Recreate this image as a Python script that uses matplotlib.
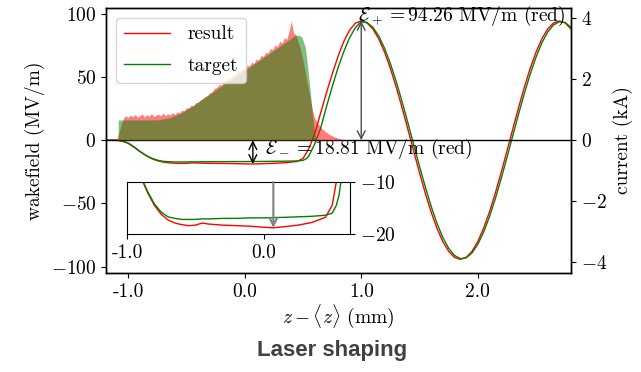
import numpy as np
import matplotlib
matplotlib.use("Agg")
import matplotlib.pyplot as plt

# шрифты как в LaTeX
plt.rcParams['font.family'] = 'serif'
plt.rcParams['font.serif'] = ['cmr10']
plt.rcParams['mathtext.fontset'] = 'cm'
plt.rcParams['axes.formatter.use_mathtext'] = True
plt.rcParams['font.size'] = 14
plt.rcParams['axes.unicode_minus'] = True

# wakefield (MV/m), общая сетка по z (mm)
wake_z = [-1.19, -1.10, -1.05, -1.00, -0.95, -0.90, -0.85, -0.80, -0.75, -0.70,
          -0.65, -0.60, -0.55, -0.50, -0.45, -0.40, -0.30, -0.20, -0.10, 0.00,
          0.07, 0.15, 0.25, 0.35, 0.45, 0.50, 0.53, 0.55, 0.58, 0.60,
          0.65, 0.70, 0.75, 0.80, 0.85, 0.90, 0.95, 1.00, 1.05, 1.10,
          1.15, 1.20, 1.25, 1.30, 1.35, 1.40, 1.45, 1.50, 1.55, 1.60,
          1.65, 1.70, 1.75, 1.80, 1.85, 1.90, 1.95, 2.00, 2.05, 2.10,
          2.15, 2.20, 2.25, 2.30, 2.35, 2.40, 2.45, 2.50, 2.55, 2.60,
          2.65, 2.70, 2.75, 2.80, 2.85]
wake_result = [0.0, 0.0, -0.8, -2.5, -5.5, -9.0, -12.0, -14.5, -16.2, -17.3,
               -17.9, -18.2, -18.4, -18.3, -17.9, -18.1, -18.3, -18.4, -18.5, -18.7,
               -18.81, -18.6, -18.3, -17.8, -16.8, -14.5, -10.0, -6.5, 0.0, 4.5,
               21.0, 37.0, 52.0, 66.0, 78.0, 87.0, 92.5, 94.26, 92.66, 87.90,
               80.14, 69.66, 56.80, 42.01, 25.80, 8.70, -8.69, -25.79, -42.01, -56.80,
               -69.66, -80.14, -87.90, -92.66, -94.26, -92.66, -87.90, -80.14, -69.66, -56.80,
               -42.01, -25.80, -8.70, 8.69, 25.79, 42.01, 56.80, 69.66, 80.14, 87.90,
               92.66, 94.26, 92.66, 87.90, 80.14]
wake_target = [0.0, 0.0, -0.6, -2.2, -5.2, -8.8, -11.8, -14.2, -15.8, -16.7,
               -17.0, -17.2, -17.2, -17.2, -17.1, -17.1, -17.0, -17.0, -16.9, -16.9,
               -16.85, -16.8, -16.7, -16.6, -16.4, -16.0, -14.5, -12.5, -7.0, -3.0,
               9.0, 26.0, 42.0, 57.0, 70.0, 81.0, 89.0, 93.66, 93.01, 89.21,
               82.37, 72.71, 60.60, 46.40, 30.63, 13.82, -3.47, -20.64, -37.09, -52.27,
               -65.73, -76.91, -85.45, -91.11, -93.66, -93.01, -89.21, -82.37, -72.71, -60.60,
               -46.40, -30.63, -13.82, 3.47, 20.64, 37.09, 52.27, 65.73, 76.91, 85.45,
               91.11, 93.66, 93.01, 89.21, 82.37]

# ток (kA)
cur_target_z = [-1.19, -1.086, -1.085, -0.75, -0.65, -0.55, -0.45, -0.35, -0.25, -0.15,
                -0.05, 0.05, 0.15, 0.25, 0.35, 0.42, 0.46, 0.49, 0.52, 0.54,
                0.56, 0.58, 0.60, 0.61, 2.85]
cur_target = [0.0, 0.0, 0.66, 0.66, 0.72, 0.88, 1.11, 1.38, 1.64, 1.90,
              2.16, 2.42, 2.68, 2.94, 3.20, 3.40, 3.45, 3.38, 3.05, 2.40,
              1.70, 0.90, 0.20, 0.0, 0.0]

cur_result_z = [-1.19, -1.10, -1.08, -1.06, -1.04, -1.02, -1.00, -0.98, -0.96, -0.94,
                -0.92, -0.90, -0.88, -0.86, -0.84, -0.82, -0.80, -0.78, -0.76, -0.74,
                -0.72, -0.70, -0.68, -0.66, -0.64, -0.62, -0.60, -0.58, -0.56, -0.54,
                -0.52, -0.50, -0.48, -0.46, -0.44, -0.42, -0.40, -0.38, -0.36, -0.34,
                -0.32, -0.30, -0.28, -0.26, -0.24, -0.22, -0.20, -0.18, -0.16, -0.14,
                -0.12, -0.10, -0.08, -0.06, -0.04, -0.02, 0.00, 0.02, 0.04, 0.06,
                0.08, 0.10, 0.12, 0.14, 0.16, 0.18, 0.20, 0.22, 0.24, 0.26,
                0.28, 0.30, 0.32, 0.34, 0.36, 0.38, 0.40, 0.42, 0.44, 0.46,
                0.48, 0.50, 0.52, 0.54, 0.56, 0.58, 0.60, 0.62, 0.64, 0.66,
                0.68, 0.70, 0.72, 0.74, 0.76, 0.78, 0.80, 0.82, 0.84, 0.86, 2.85]
cur_result = [0.0, 0.0, 0.25, 0.50, 0.72, 0.80, 0.74, 0.82, 0.76, 0.84,
              0.75, 0.80, 0.86, 0.76, 0.83, 0.78, 0.87, 0.77, 0.82, 0.85,
              0.79, 0.88, 0.80, 0.86, 0.82, 0.90, 0.84, 0.92, 0.90, 0.98,
              0.96, 1.06, 1.05, 1.14, 1.12, 1.22, 1.24, 1.32, 1.36, 1.42,
              1.46, 1.55, 1.58, 1.70, 1.72, 1.82, 1.80, 1.92, 1.95, 2.04,
              2.00, 2.14, 2.12, 2.25, 2.22, 2.35, 2.34, 2.45, 2.43, 2.55,
              2.52, 2.66, 2.62, 2.78, 2.74, 2.88, 2.85, 3.00, 2.96, 3.12,
              3.06, 3.24, 3.18, 3.36, 3.30, 3.55, 3.90, 3.50, 3.45, 3.20,
              2.95, 2.60, 2.20, 1.80, 1.40, 1.00, 0.72, 0.58, 0.48, 0.38,
              0.32, 0.26, 0.20, 0.16, 0.12, 0.09, 0.06, 0.04, 0.02, 0.0, 0.0]

E_plus = 94.26
E_minus = 18.81
z_plus = 1.0
z_minus = 0.07

fig = plt.figure(figsize=(6.41, 3.72), dpi=100)
ax = fig.add_axes([0.1654, 0.2661, 0.7254, 0.7124])
ax2 = ax.twinx()

l1, = ax.plot(wake_z, wake_result, color='r', lw=1, label='result')
l2, = ax.plot(wake_z, wake_target, color='g', lw=1, label='target')
ax.axhline(0, color='k', lw=1)

ax2.fill_between(cur_result_z, cur_result, color='r', alpha=0.5, lw=0)
ax2.fill_between(cur_target_z, cur_target, color='g', alpha=0.5, lw=0)

ax.annotate('', xy=(z_plus, E_plus), xytext=(z_plus, 0),
            arrowprops=dict(arrowstyle='<->', color='0.3', lw=1, shrinkA=0, shrinkB=0))
ax.annotate('', xy=(z_minus, -E_minus), xytext=(z_minus, 0),
            arrowprops=dict(arrowstyle='<->', color='k', lw=1, shrinkA=0, shrinkB=0))
ax.text(0.97, 98, r'$\mathcal{E}_+ = 94.26$ MV/m (red)', ha='left', va='center')
ax.text(0.17, -7, r'$\mathcal{E}_- = 18.81$ MV/m (red)', ha='left', va='center')

ax.set_xlim(-1.19, 2.8)
ax.set_ylim(-105, 104.5)
ax2.set_ylim(-4.36, 4.33)
ax.set_xticks([-1, 0, 1, 2])
ax.set_xticklabels(['-1.0', '0.0', '1.0', '2.0'])
ax.set_yticks([-100, -50, 0, 50, 100])
ax2.set_yticks([-4, -2, 0, 2, 4])
ax.set_xlabel(r'$z - \langle z \rangle$ (mm)', labelpad=1)
ax.set_ylabel('wakefield (MV/m)')
ax2.set_ylabel('current (kA)')
for a in (ax, ax2):
    for s in a.spines.values():
        s.set_linewidth(1.0)

ax2.legend([l1, l2], ['result', 'target'], loc='upper left',
           handlelength=2.4, handletextpad=0.9, labelspacing=0.7)

# вставка
axin = fig.add_axes([0.1981, 0.371, 0.3479, 0.1398])
axin.plot(wake_z, wake_result, color='r', lw=1)
axin.plot(wake_z, wake_target, color='g', lw=1)
axin.annotate('', xy=(z_minus, -E_minus), xytext=(z_minus, -10),
              arrowprops=dict(arrowstyle='->', color='0.5', lw=1.5, shrinkA=0, shrinkB=0))
axin.set_xlim(-1.0, 0.63)
axin.set_ylim(-20, -10)
axin.yaxis.tick_right()
axin.set_yticks([-20, -10])
axin.set_xticks([-1, 0])
axin.set_xticklabels(['-1.0', '0.0'])

fig.text(0.518, 0.059, 'Laser shaping', ha='center', va='center', fontsize=16,
         fontweight='bold', color='#404040', family='Liberation Sans')

fig.savefig('out.png', dpi=100)
